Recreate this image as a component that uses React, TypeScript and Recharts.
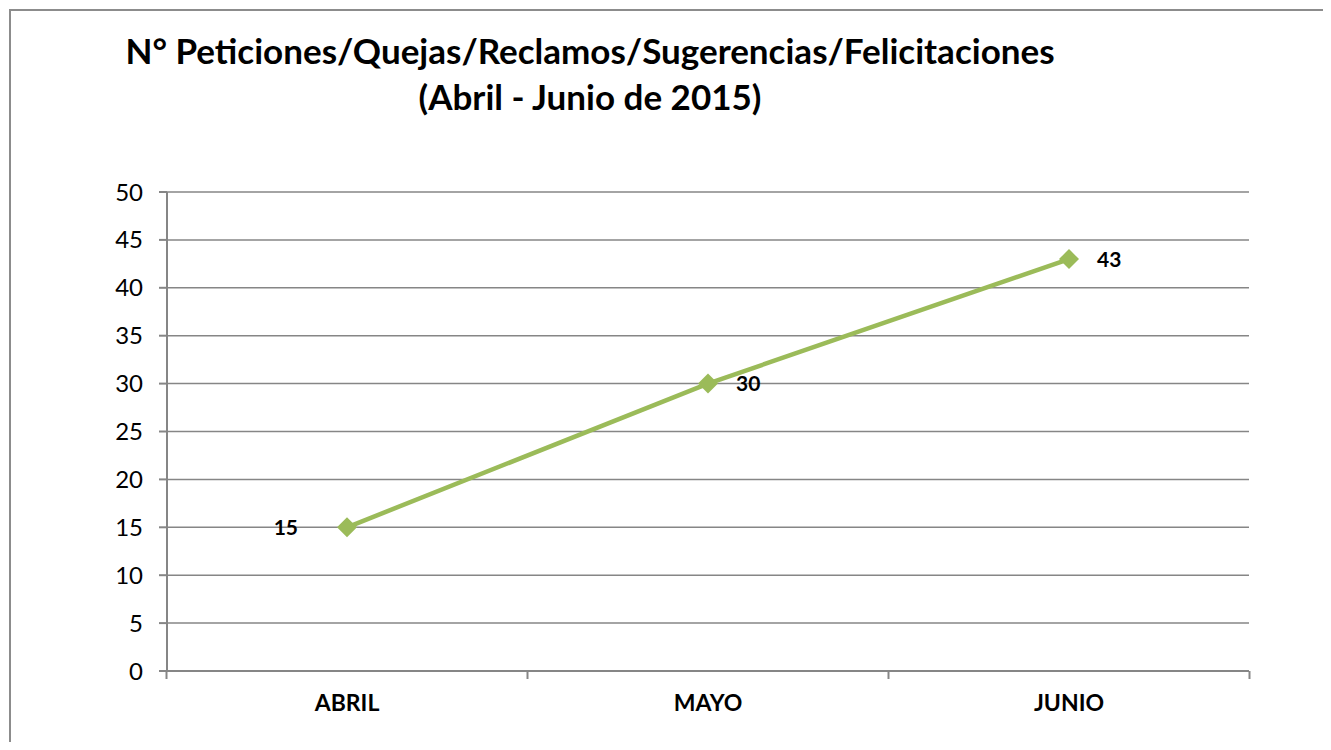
import React from 'react';
import { LineChart, Line, XAxis, YAxis, CartesianGrid, LabelList } from 'recharts';

const months = ['ABRIL', 'MAYO', 'JUNIO'];
const counts = [15, 30, 43];
const yTicks = [0, 5, 10, 15, 20, 25, 30, 35, 40, 45, 50];

const data = months.map((m, i) => ({ month: m, value: counts[i] }));

const GRAY = '#868686';
const GREEN = '#9BBB59';
const FONT = 'Lato, "Open Sans", sans-serif';
const HALF_BAND = 180;
const X_TICK = 8;
const X_MARGIN = 16;

const Diamond = (props: any) => {
  const { cx, cy } = props;
  if (cx == null || cy == null) return null;
  const r = 10;
  return (
    <path
      d={`M${cx},${cy - r} L${cx + r},${cy} L${cx},${cy + r} L${cx - r},${cy} Z`}
      fill={GREEN}
    />
  );
};

const ValueLabel = (props: any) => {
  const { x, y, value, index } = props;
  const leftSide = index === 0;
  return (
    <text
      x={leftSide ? x - 49 : x + 28}
      y={y}
      dy="0.36em"
      textAnchor={leftSide ? 'end' : 'start'}
      fontFamily={FONT}
      fontWeight="bold"
      fontSize={21}
      fill="#000"
    >
      {value}
    </text>
  );
};

// category label plus Excel-style tick marks on the band edges
const MonthTick = (props: any) => {
  const { x, y, payload, index } = props;
  const axisY = y - X_TICK - X_MARGIN;
  const edges = [x - HALF_BAND - 0.5];
  if (index === months.length - 1) edges.push(x + HALF_BAND + 0.5);
  return (
    <g>
      {edges.map((ex, i) => (
        <line key={i} x1={ex} x2={ex} y1={axisY} y2={axisY + X_TICK} stroke={GRAY} strokeWidth={2} />
      ))}
      <text
        x={x}
        y={y}
        dy="0.71em"
        textAnchor="middle"
        fontFamily={FONT}
        fontWeight="bold"
        fontSize={23}
        fill="#000"
      >
        {payload.value}
      </text>
    </g>
  );
};

export default function App() {
  return (
    <div style={{ position: 'relative', width: 1331, height: 750, margin: -8, overflow: 'hidden', background: '#fff' }}>
      <div
        style={{
          position: 'absolute',
          left: 9,
          top: 9,
          width: 1400,
          height: 800,
          border: `2px solid #8c8c8c`,
          boxSizing: 'border-box',
        }}
      />
      <div
        style={{
          position: 'absolute',
          left: 0,
          top: 27,
          width: 1180,
          textAlign: 'center',
          fontFamily: FONT,
          fontWeight: 'bold',
          fontSize: 35,
          lineHeight: '46px',
          color: '#000',
        }}
      >
        N° Peticiones/Quejas/Reclamos/Sugerencias/Felicitaciones
        <br />
        (Abril - Junio de 2015)
      </div>
      <div style={{ position: 'absolute', left: 0, top: 0 }}>
        <LineChart width={1331} height={750} data={data} margin={{ top: 192, right: 82, bottom: 0, left: 0 }}>
          <CartesianGrid vertical={false} stroke={GRAY} strokeWidth={1.5} />
          <XAxis
            dataKey="month"
            height={79}
            padding={{ left: HALF_BAND, right: HALF_BAND }}
            axisLine={{ stroke: GRAY, strokeWidth: 2 }}
            tickLine={false}
            tickSize={X_TICK}
            tickMargin={X_MARGIN}
            tick={<MonthTick />}
          />
          <YAxis
            width={167}
            domain={[0, 50]}
            ticks={yTicks}
            interval={0}
            tickSize={8}
            tickMargin={16}
            tickLine={{ stroke: GRAY, strokeWidth: 2 }}
            axisLine={{ stroke: GRAY, strokeWidth: 2 }}
            tick={{ fontFamily: FONT, fontSize: 24, fill: '#000' }}
          />
          <Line
            dataKey="value"
            stroke={GREEN}
            strokeWidth={4.5}
            dot={<Diamond />}
            activeDot={false}
            isAnimationActive={false}
          >
            <LabelList dataKey="value" content={<ValueLabel />} />
          </Line>
        </LineChart>
      </div>
    </div>
  );
}
